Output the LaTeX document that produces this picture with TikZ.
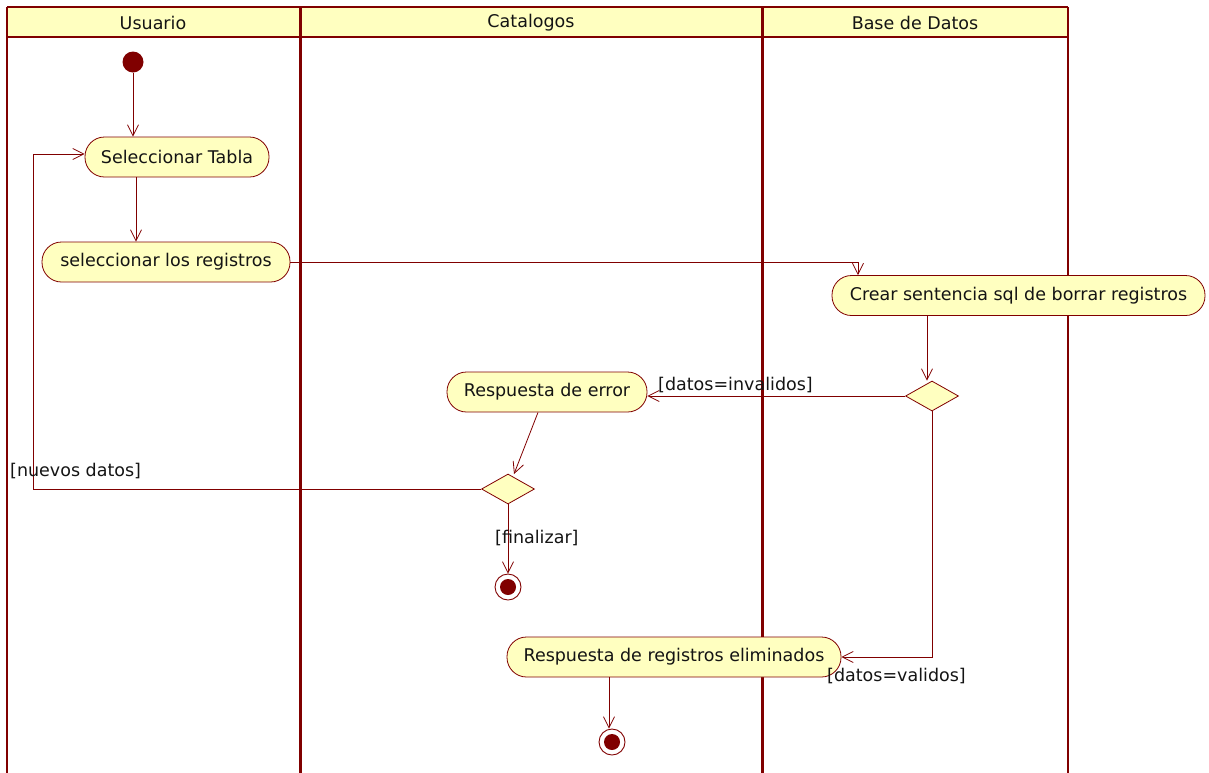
\documentclass[tikz,border=0pt]{standalone}
\usepackage{fontspec}
\setmainfont{DejaVu Sans}
\usetikzlibrary{shapes.geometric,arrows.meta}
\definecolor{umlred}{RGB}{128,0,0}
\definecolor{umlfill}{RGB}{255,255,192}
\definecolor{umltext}{RGB}{20,20,20}
\tikzset{
  umlfont/.style={font=\fontsize{17.5}{20}\selectfont},
  activity/.style={rectangle, rounded corners=19.5pt, draw=umlred, fill=umlfill, line width=0.8pt,
    minimum height=40pt, inner xsep=6pt, text=umltext, umlfont},
  decision/.style={diamond, draw=umlred, fill=umlfill, line width=0.8pt, aspect=1.75,
    minimum width=53pt, minimum height=30pt, inner sep=0pt},
  startnode/.style={circle, fill=umlred, minimum size=21pt, inner sep=0pt},
  endnode/.style={circle, draw=umlred, fill=white, line width=0.9pt, minimum size=26pt, inner sep=0pt,
    path picture={\fill[umlred] (path picture bounding box.center) circle (8pt);}},
  flow/.style={draw=umlred, line width=0.8pt, -{Straight Barb[length=11pt,width=11pt]}},
  guard/.style={text=umltext, inner sep=0pt, umlfont},
  lanehead/.style={text=umltext, umlfont},
}
\begin{document}
\begin{tikzpicture}[x=1pt,y=-1pt]
\useasboundingbox (0,0) rectangle (1209,772);
% swimlane frame
\fill[umlfill] (7,7) rectangle (1068,37);
\draw[umlred, line width=2pt] (7,37) -- (1068,37);
\draw[umlred, line width=2pt] (7,7) -- (1068,7);
\draw[umlred, line width=1.8pt] (7,7) -- (7,790);
\draw[umlred, line width=1.8pt] (1068,7) -- (1068,790);
\draw[umlred, line width=3pt] (300,7) -- (300,790);
\draw[umlred, line width=3pt] (762,7) -- (762,790);
\node[lanehead] (hu) at (153,23) {Usuario};
\node[lanehead] (hc) at (531,23) {Catalogos};
\node[lanehead] (hb) at (915,23) {Base de Datos};

% activities
\node[startnode] (start) at (133,62) {};
\node[activity, minimum width=184pt] (tabla) at (177,157) {Seleccionar Tabla};
\node[activity, minimum width=248pt] (regs) at (166,262) {seleccionar los registros};
\node[activity, minimum width=373pt] (sql) at (1018.5,295.5) {Crear sentencia sql de borrar registros};
\node[decision] (d1) at (932,396) {};
\node[activity, minimum width=200pt] (err) at (547,392) {Respuesta de error};
\node[decision] (d2) at (508,489) {};
\node[endnode] (fin1) at (508,587) {};
\node[activity, minimum width=334pt] (elim) at (674,657) {Respuesta de registros eliminados};
\node[endnode] (fin2) at (612,742) {};

% control flows
\draw[flow] (start) -- (start |- tabla.north);
\draw[flow] ([xshift=-41pt]tabla.south) -- ([xshift=-41pt]tabla.south |- regs.north);
\coordinate (c1) at (858,262);
\draw[flow] (regs.east) -- (c1) -- (c1 |- sql.north);
\draw[flow] ([xshift=-91.5pt]sql.south) -- ([xshift=-91.5pt]sql.south |- d1.north);
\draw[flow] (d1.west) -- (err.east |- d1.west);
\node[guard, anchor=west] (ginv) at (658,385) {[datos=invalidos]};
\coordinate (c2) at (932,657);
\draw[flow] (d1.south) -- (c2) -- (elim.east);
\node[guard, anchor=west] (gval) at (827,676) {[datos=validos]};
\draw[flow] ([xshift=-9pt]err.south) -- (514,474);
\coordinate (c4) at (33,154);
\draw[flow] (d2.west) -- (d2.west -| c4) -- (c4) -- (tabla.west |- c4);
\node[guard, anchor=west] (gnue) at (10,471) {[nuevos datos]};
\draw[flow] (d2.south) -- (fin1.north);
\node[guard, anchor=west] (gfin) at (495,538) {[finalizar]};
\draw[flow] ([xshift=-65pt]elim.south) -- ([xshift=-65pt]elim.south |- fin2.north);
\end{tikzpicture}
\end{document}
